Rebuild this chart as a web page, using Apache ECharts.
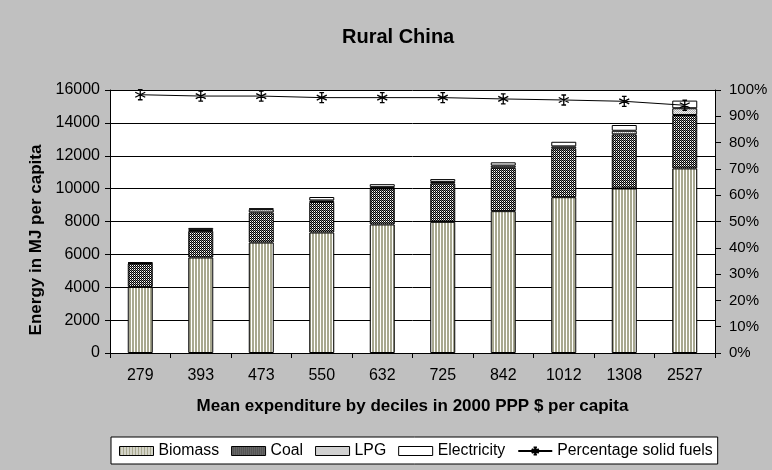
<!DOCTYPE html>
<html>
<head>
<meta charset="utf-8">
<script src="https://cdn.jsdelivr.net/npm/echarts@6/dist/echarts.min.js"></script>
<style>
html,body{margin:0;padding:0;background:#c0c0c0;}
#chart{width:772px;height:470px;}
</style>
</head>
<body>
<div id="chart"></div>
<script>
// ---- data ----
const categories = ['279','393','473','550','632','725','842','1012','1308','2527'];
const biomass     = [4020, 5810, 6720, 7330, 7820, 7980, 8630, 9480, 10010, 11230];
const coal        = [1420, 1620, 1830, 1860, 2190, 2340, 2640, 2970, 3290, 3250];
const lpg         = [30, 60, 200, 90, 80, 90, 130, 120, 220, 410];
const electricity = [45, 120, 45, 210, 180, 170, 200, 280, 350, 465];
const solidShare  = [0.982, 0.977, 0.977, 0.971, 0.971, 0.971, 0.966, 0.962, 0.957, 0.942];
const leftTicks   = {min: 0, max: 16000, interval: 2000};
const rightTicks  = {min: 0, max: 1, interval: 0.1};

const FONT = "'Liberation Sans', Arial, sans-serif";

function pattern(w, h, draw) {
  const c = document.createElement('canvas');
  c.width = w; c.height = h;
  const ctx = c.getContext('2d');
  draw(ctx);
  return {image: c, repeat: 'repeat'};
}
const biomassPat = pattern(3, 1, ctx => {
  ctx.fillStyle = '#ffffff'; ctx.fillRect(0, 0, 3, 1);
  ctx.fillStyle = '#a8a890'; ctx.fillRect(0, 0, 2, 1);
});
const coalPat = pattern(2, 2, ctx => {
  ctx.fillStyle = '#ffffff'; ctx.fillRect(0, 0, 2, 2);
  ctx.fillStyle = '#000000'; ctx.fillRect(0, 0, 1, 1); ctx.fillRect(1, 1, 1, 1);
  ctx.fillStyle = '#777777'; ctx.fillRect(1, 0, 1, 1);
});
const lpgPat = pattern(2, 2, ctx => {
  ctx.fillStyle = '#f2f2f2'; ctx.fillRect(0, 0, 2, 2);
  ctx.fillStyle = '#b0b0b0'; ctx.fillRect(0, 0, 1, 1); ctx.fillRect(1, 1, 1, 1);
});

const barCommon = {
  type: 'bar', stack: 'energy', barWidth: 25, yAxisIndex: 0,
  emphasis: {disabled: true}
};
function barStyle(fill) {
  return {color: fill, borderColor: '#000', borderWidth: 1};
}
function legendItem(name, fill) {
  return {name: name, icon: 'rect', itemStyle: {color: fill, borderColor: '#000', borderWidth: 1}};
}

const chart = echarts.init(document.getElementById('chart'), null, {renderer: 'canvas'});
chart.setOption({
  backgroundColor: '#c0c0c0',
  animation: false,
  textStyle: {fontFamily: FONT, color: '#000'},
  title: {
    text: 'Rural China', left: 337, top: 22,
    textStyle: {fontFamily: FONT, fontSize: 20, fontWeight: 'bold', color: '#000'}
  },
  grid: {left: 110, right: 57, top: 90, bottom: 117, show: true, backgroundColor: '#ffffff', borderWidth: 0},
  legend: {
    left: 111, top: 437,
    padding: [6, 5, 5, 8],
    itemGap: 12, itemWidth: 34, itemHeight: 9,
    backgroundColor: '#ffffff', borderColor: '#000', borderWidth: 1,
    textStyle: {fontFamily: FONT, fontSize: 15.8, color: '#000', padding: [1, 0, 0, 0]},
    data: [
      legendItem('Biomass', biomassPat),
      legendItem('Coal', coalPat),
      legendItem('LPG', lpgPat),
      legendItem('Electricity', '#ffffff'),
      {name: 'Percentage solid fuels'}
    ]
  },
  xAxis: {
    type: 'category', data: categories,
    axisLine: {lineStyle: {color: '#000', width: 1}},
    axisTick: {show: true, length: 5, interval: 0, lineStyle: {color: '#000'}},
    axisLabel: {fontFamily: FONT, fontSize: 16, color: '#000', margin: 15, interval: 0},
    name: 'Mean expenditure by deciles in 2000 PPP $ per capita',
    nameLocation: 'middle', nameGap: 45,
    nameTextStyle: {fontFamily: FONT, fontSize: 17, fontWeight: 'bold', color: '#000'}
  },
  yAxis: [
    {
      type: 'value', min: leftTicks.min, max: leftTicks.max, interval: leftTicks.interval,
      axisLine: {show: true, lineStyle: {color: '#000', width: 1}},
      axisTick: {show: true, length: 5, lineStyle: {color: '#000'}},
      axisLabel: {fontFamily: FONT, fontSize: 16, color: '#000', margin: 10,
        formatter: v => String(v)},
      splitLine: {show: true, lineStyle: {color: '#000', width: 1}}
    },
    {
      type: 'value', min: rightTicks.min, max: rightTicks.max, interval: rightTicks.interval,
      position: 'right',
      axisLine: {show: true, lineStyle: {color: '#000', width: 1}},
      axisTick: {show: true, length: 6, lineStyle: {color: '#000'}},
      axisLabel: {fontFamily: FONT, fontSize: 15, color: '#000', margin: 14,
        formatter: v => Math.round(v * 100) + '%'},
      splitLine: {show: false}
    }
  ],
  graphic: [{
    type: 'text', x: 36, y: 240, rotation: Math.PI / 2,
    style: {text: 'Energy in MJ per capita', font: "bold 17px 'Liberation Sans', Arial, sans-serif",
      fill: '#000', align: 'center', verticalAlign: 'middle'}
  }],
  series: [
    Object.assign({}, barCommon, {name: 'Biomass', data: biomass, itemStyle: barStyle(biomassPat)}),
    Object.assign({}, barCommon, {name: 'Coal', data: coal, itemStyle: barStyle(coalPat)}),
    Object.assign({}, barCommon, {name: 'LPG', data: lpg, itemStyle: barStyle(lpgPat)}),
    Object.assign({}, barCommon, {name: 'Electricity', data: electricity, itemStyle: barStyle('#ffffff')}),
    {
      name: 'Percentage solid fuels', type: 'line', yAxisIndex: 1, data: solidShare,
      symbol: 'path://M5,0L5,10M0.7,2.5L9.3,7.5M0.7,7.5L9.3,2.5M3,0L7,0M3,10L7,10',
      symbolSize: 10, showSymbol: true,
      lineStyle: {color: '#000', width: 1},
      itemStyle: {color: '#000', borderColor: '#000', borderWidth: 1.3},
      emphasis: {disabled: true}, z: 5
    }
  ]
});
</script>
</body>
</html>
